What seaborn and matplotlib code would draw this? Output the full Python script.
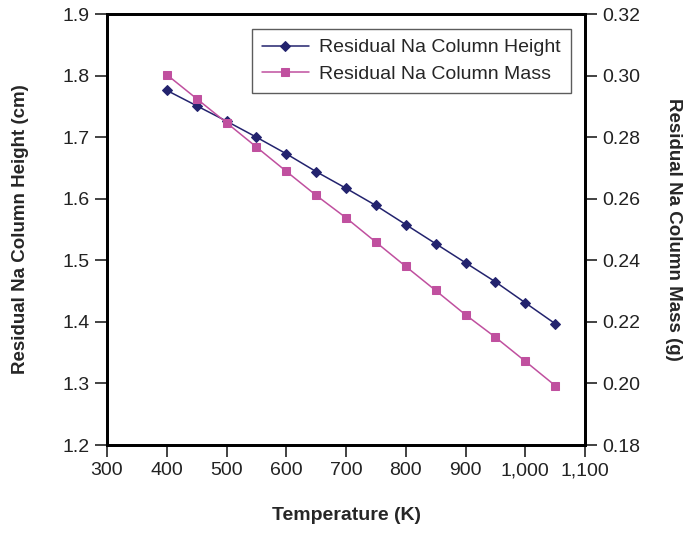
import numpy as np
import pandas as pd
import matplotlib.pyplot as plt
import matplotlib.ticker as mticker
import seaborn as sns

# data
temperature = [400, 450, 500, 550, 600, 650, 700, 750, 800, 850, 900, 950, 1000, 1050]
height_cm = [1.776, 1.751, 1.726, 1.700, 1.673, 1.644, 1.617, 1.589, 1.558, 1.527,
             1.496, 1.465, 1.431, 1.397]
mass_g = [0.3003, 0.2925, 0.2847, 0.2768, 0.2689, 0.2611, 0.2538, 0.2459, 0.2380,
          0.2302, 0.2223, 0.2150, 0.2072, 0.1993]

height_label = "Residual Na Column Height"
mass_label = "Residual Na Column Mass"
navy = "#23236e"
pink = "#c0509f"

sns.set_style("ticks")
plt.rcParams['font.family'] = ['Liberation Sans', 'DejaVu Sans']

df = pd.DataFrame({'T': temperature, 'height': height_cm, 'mass': mass_g})

fig = plt.figure(figsize=(6.93, 5.33), dpi=100)
ax = fig.add_axes([0.1544, 0.1651, 0.6898, 0.8086])
ax2 = ax.twinx()

sns.lineplot(data=df, x='T', y='height', ax=ax, color=navy, marker='D', markersize=5,
             markeredgecolor=navy, linewidth=1.1, label=height_label, legend=False)
sns.lineplot(data=df, x='T', y='mass', ax=ax2, color=pink, marker='s', markersize=6,
             markeredgecolor=pink, linewidth=1.1, label=mass_label, legend=False)

ax.set_xlim(300, 1100)
ax.set_ylim(1.2, 1.9)
ax2.set_ylim(0.18, 0.32)
ax.xaxis.set_major_locator(mticker.MultipleLocator(100))
ax.yaxis.set_major_locator(mticker.MultipleLocator(0.1))
ax2.yaxis.set_major_locator(mticker.MultipleLocator(0.02))
ax.xaxis.set_major_formatter(mticker.FuncFormatter(lambda v, p: f"{int(v):,}"))
ax.yaxis.set_major_formatter(mticker.FormatStrFormatter('%.1f'))
ax2.yaxis.set_major_formatter(mticker.FormatStrFormatter('%.2f'))

for a in (ax, ax2):
    for s in a.spines.values():
        s.set_linewidth(2.0)
        s.set_color('black')
        s.set_visible(True)
    a.tick_params(axis='both', direction='out', length=8.5, width=1.2, labelsize=14,
                  colors='#222222', pad=4)

ax.set_xlabel("Temperature (K)", fontsize=14, fontweight='bold', labelpad=20)
ax.set_ylabel("Residual Na Column Height (cm)", fontsize=13.5, fontweight='bold', labelpad=24)
ax2.set_ylabel("Residual Na Column Mass (g)", fontsize=13.5, fontweight='bold',
               rotation=-90, labelpad=30)

h1, l1 = ax.get_legend_handles_labels()
h2, l2 = ax2.get_legend_handles_labels()
leg = ax2.legend(h1 + h2, l1 + l2, loc='upper right', bbox_to_anchor=(0.97, 0.965),
                 borderaxespad=0, fontsize=14, frameon=True, fancybox=False,
                 handlelength=2.4, borderpad=0.5, labelspacing=0.45, handletextpad=0.55)
leg.get_frame().set_edgecolor('#333333')
leg.get_frame().set_linewidth(1.0)

fig.savefig("out.png", dpi=100)
